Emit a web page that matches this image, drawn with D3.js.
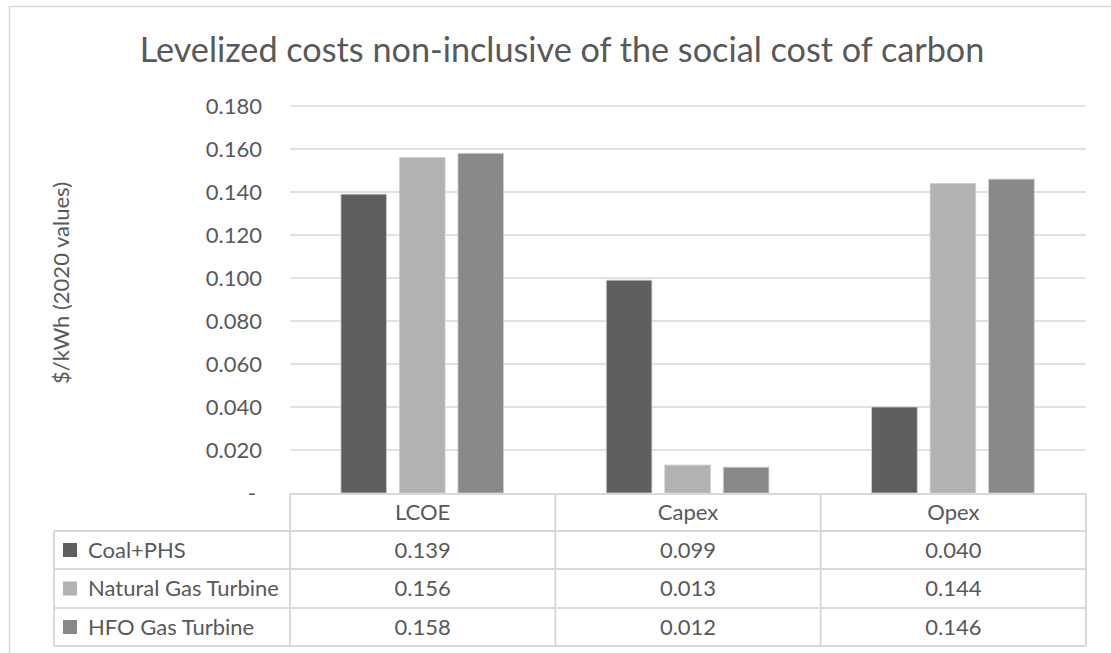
<!DOCTYPE html>
<html>
<head>
<meta charset="utf-8">
<script src="https://cdn.jsdelivr.net/npm/d3@7"></script>
<style>
  body { margin: 0; background: #fff; }
  text { font-family: Lato, "Open Sans", sans-serif; fill: #595959; }
</style>
</head>
<body>
<div id="chart"></div>
<script>
// Data
const categories = ["LCOE", "Capex", "Opex"];
const seriesNames = ["Coal+PHS", "Natural Gas Turbine", "HFO Gas Turbine"];
const coalPhs = [0.139, 0.099, 0.040];
const naturalGas = [0.156, 0.013, 0.144];
const hfoGas = [0.158, 0.012, 0.146];
const yTicks = [0, 0.02, 0.04, 0.06, 0.08, 0.10, 0.12, 0.14, 0.16, 0.18];
const seriesColors = ["#5f5f5f", "#b2b2b2", "#898989"];

const seriesValues = [coalPhs, naturalGas, hfoGas];
const rows = categories.map((c, i) => {
    const r = { category: c };
    seriesNames.forEach((s, j) => r[s] = seriesValues[j][i]);
    return r;
});

const W = 1111, H = 653;
const plot = { left: 290, right: 1086, top: 106, bottom: 493 };
const gridColor = "#d9d9d9";

const svg = d3.select("#chart").append("svg")
    .attr("width", W)
    .attr("height", H);

// chart frame
svg.append("rect")
    .attr("x", 9.5).attr("y", 6.5)
    .attr("width", 1300).attr("height", 800)
    .attr("fill", "#fff")
    .attr("stroke", gridColor)
    .attr("stroke-width", 1.5);

// Title
const title = svg.append("text")
    .attr("x", 562)
    .attr("y", 62)
    .attr("text-anchor", "middle")
    .style("font-size", "34px")
    .text("Levelized costs non-inclusive of the social cost of carbon");
const tl = title.node().getComputedTextLength();
title.style("font-size", (34 * 845 / tl).toFixed(2) + "px");

// Scales
const y = d3.scaleLinear().domain([0, 0.18]).range([plot.bottom, plot.top]);
const x0 = d3.scaleBand().domain(categories).range([plot.left, plot.right]).padding(0);
const bw = x0.bandwidth();
const x1 = d3.scaleBand().domain(seriesNames)
    .range([bw * 0.192, bw * 0.805])
    .paddingInner(0.22);
const color = d3.scaleOrdinal().domain(seriesNames).range(seriesColors);

// Gridlines
svg.append("g")
    .selectAll("line")
    .data(yTicks.filter(d => d > 0))
    .join("line")
    .attr("x1", plot.left).attr("x2", plot.right)
    .attr("y1", d => y(d)).attr("y2", d => y(d))
    .attr("stroke", gridColor)
    .attr("stroke-width", 1.5);

// Y axis labels
const yAxis = svg.append("g")
    .attr("transform", `translate(${plot.left}, 0)`)
    .call(d3.axisLeft(y).tickValues(yTicks).tickSize(0).tickPadding(28)
        .tickFormat(d => d === 0 ? "-" : d3.format(".3f")(d)));
yAxis.select(".domain").remove();
yAxis.selectAll("text")
    .style("font-family", "Lato, 'Open Sans', sans-serif")
    .style("font-size", "22px")
    .attr("fill", "#595959")
    .attr("dx", d => d === 0 ? -6 : 0);

// Y axis title
svg.append("text")
    .attr("transform", "translate(69, 283) rotate(-90)")
    .attr("text-anchor", "middle")
    .style("font-size", "22px")
    .text("$/kWh (2020 values)");

// Bars
svg.append("g")
    .selectAll("g")
    .data(rows)
    .join("g")
    .attr("transform", d => `translate(${x0(d.category)}, 0)`)
    .selectAll("rect")
    .data(d => seriesNames.map(s => ({ key: s, value: d[s] })))
    .join("rect")
    .attr("x", d => x1(d.key))
    .attr("y", d => y(d.value))
    .attr("width", x1.bandwidth())
    .attr("height", d => y(0) - y(d.value))
    .attr("fill", d => color(d.key))
    .attr("stroke", "#cfcfcf")
    .attr("stroke-width", 0.8);

// Data table
const rowTops = [494, 531, 569, 608, 646];
const legendLeft = 54;
const table = svg.append("g");

// horizontal lines
rowTops.forEach((yy, i) => {
    table.append("line")
        .attr("x1", i === 0 ? plot.left : legendLeft).attr("x2", plot.right)
        .attr("y1", yy).attr("y2", yy)
        .attr("stroke", gridColor).attr("stroke-width", 2);
});
// vertical lines
[plot.left, ...categories.map(c => x0(c) + bw)].forEach(xx => {
    table.append("line")
        .attr("x1", xx).attr("x2", xx)
        .attr("y1", rowTops[0]).attr("y2", rowTops[4])
        .attr("stroke", gridColor).attr("stroke-width", 2);
});
table.append("line")
    .attr("x1", legendLeft).attr("x2", legendLeft)
    .attr("y1", rowTops[1]).attr("y2", rowTops[4])
    .attr("stroke", gridColor).attr("stroke-width", 2);

// header labels
table.selectAll(".hdr")
    .data(categories)
    .join("text")
    .attr("class", "hdr")
    .attr("x", d => x0(d) + bw / 2)
    .attr("y", (rowTops[0] + rowTops[1]) / 2)
    .attr("dy", "0.36em")
    .attr("text-anchor", "middle")
    .style("font-size", "22px")
    .text(d => d);

// rows
seriesNames.forEach((s, i) => {
    const cy = (rowTops[i + 1] + rowTops[i + 2]) / 2;
    table.append("rect")
        .attr("x", 63).attr("y", cy - 7)
        .attr("width", 14).attr("height", 14)
        .attr("fill", color(s));
    table.append("text")
        .attr("x", 88).attr("y", cy)
        .attr("dy", "0.36em")
        .style("font-size", "22px")
        .text(s);
    categories.forEach((c, j) => {
        table.append("text")
            .attr("x", x0(c) + bw / 2)
            .attr("y", cy)
            .attr("dy", "0.36em")
            .attr("text-anchor", "middle")
            .style("font-size", "22px")
            .text(d3.format(".3f")(seriesValues[i][j]));
    });
});
</script>
</body>
</html>
